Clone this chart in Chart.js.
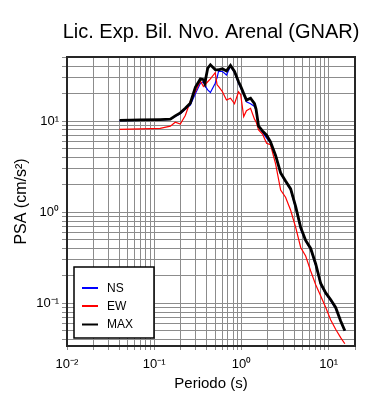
<!DOCTYPE html>
<html>
<head>
<meta charset="utf-8">
<script src="https://cdn.jsdelivr.net/npm/chart.js@4.4.1/dist/chart.umd.min.js"></script>
<style>
  html, body { margin: 0; padding: 0; background: #fff; }
  #wrap { width: 390px; height: 400px; position: relative; }
</style>
</head>
<body>
<div id="wrap"><canvas id="c" width="390" height="400"></canvas></div>
<script>
// ---- data ----
const periods = [0.04, 0.069, 0.117, 0.153, 0.174, 0.199, 0.227, 0.259, 0.296, 0.338, 0.366, 0.38, 0.41, 0.44, 0.50, 0.525, 0.545, 0.605, 0.673, 0.748, 0.832, 0.925, 0.98, 1.06, 1.14, 1.27, 1.41, 1.47, 1.57, 1.74, 1.94, 2.15, 2.46, 2.81, 3.2, 3.66, 4.18, 4.77, 5.44, 6.21, 7.09, 8.09, 9.24, 10.5, 12.0, 13.7, 15.3];
const psaNS  = [10.1, 10.2, 10.3, 10.4, 11.2, 12.0, 13.5, 15.0, 20.0, 26.0, 27.0, 24.5, 22.0, 20.6, 26.0, 30.0, 35.0, 35.0, 32.0, 40.0, 34.0, 26.0, 23.0, 19.5, 16.3, 15.5, 14.5, 13.0, 8.8, 7.5, 6.5, 5.8, 4.1, 2.65, 2.15, 1.75, 1.1, 0.65, 0.48, 0.39, 0.26, 0.16, 0.127, 0.107, 0.088, 0.063, 0.05];
const psaEW  = [8.1, 8.2, 8.3, 8.8, 9.7, 9.3, 11.5, 16.5, 21.0, 27.5, 24.0, 25.0, 27.0, 29.0, 34.0, 25.0, 24.0, 21.0, 17.0, 17.8, 15.5, 21.0, 19.4, 11.2, 13.0, 13.8, 10.5, 9.8, 8.0, 7.2, 5.7, 5.5, 3.4, 1.75, 1.46, 1.05, 0.68, 0.41, 0.33, 0.226, 0.16, 0.12, 0.09, 0.066, 0.052, 0.042, 0.036];
const psaMAX = [10.2, 10.3, 10.4, 10.5, 11.4, 12.3, 13.8, 15.7, 23.5, 29.0, 28.5, 26.0, 38.0, 41.5, 36.6, 36.5, 36.6, 37.5, 35.5, 40.8, 35.0, 27.0, 24.0, 20.0, 17.0, 17.8, 15.5, 13.5, 8.8, 7.8, 7.0, 5.9, 4.2, 2.7, 2.2, 1.8, 1.15, 0.68, 0.49, 0.40, 0.27, 0.165, 0.13, 0.11, 0.09, 0.064, 0.05];

const seriesNames = ['NS', 'EW', 'MAX'];
const xTickValues = [0.01, 0.1, 1, 10];
const xTickLabels = ['10⁻²', '10⁻¹', '10⁰', '10¹'];
const yTickValues = [0.1, 1, 10];
const yTickLabels = ['10⁻¹', '10⁰', '10¹'];

const titleText = 'Lic. Exp. Bil. Nvo. Arenal (GNAR)';
const xTitle = 'Periodo (s)';
const yTitle = 'PSA (cm/s²)';

// ---- helpers ----
function pts(ys) { return periods.map((p, i) => ({ x: p, y: ys[i] })); }
function minorTicks(lo, hi) {
  const out = [];
  for (let e = -3; e <= 3; e++) {
    for (let m = 1; m <= 9; m++) {
      const v = m * Math.pow(10, e);
      if (v >= lo * 0.9999 && v <= hi * 1.0001) out.push({ value: v });
    }
  }
  return out;
}
function labelFor(vals, labs) {
  return function (val) {
    const i = vals.findIndex(t => Math.abs(t - val) / t < 1e-6);
    return i >= 0 ? labs[i] : '';
  };
}

const FONT = "'Liberation Sans', Arial, Helvetica, sans-serif";
Chart.defaults.font.family = FONT;
Chart.defaults.color = '#000';

const GRID = '#8c8c8c';
const X_MIN = 0.01, X_MAX = 20, Y_MIN = 0.034, Y_MAX = 50.5;

const framePlugin = {
  id: 'frameAndLegend',
  afterDraw(chart) {
    const ctx = chart.ctx;
    const a = chart.chartArea;
    ctx.save();
    // title centred over the plot area
    ctx.fillStyle = '#000';
    ctx.font = '20px ' + FONT;
    ctx.textAlign = 'center';
    ctx.textBaseline = 'middle';
    ctx.fillText(titleText, (a.left + a.right) / 2, 32);
    // frame
    ctx.strokeStyle = '#262626';
    ctx.lineWidth = 2;
    ctx.strokeRect(a.left, a.top, a.right - a.left, a.bottom - a.top);
    // legend box
    const bx = 74, by = 267, bw = 80, bh = 71;
    ctx.fillStyle = '#fff';
    ctx.fillRect(bx, by, bw, bh);
    ctx.strokeStyle = '#000';
    ctx.lineWidth = 1.5;
    ctx.strokeRect(bx, by, bw, bh);
    const rows = [288, 306, 324.5];
    chart.data.datasets.forEach((ds, i) => {
      const yy = rows[i];
      ctx.strokeStyle = ds.borderColor;
      ctx.lineWidth = 2;
      ctx.beginPath();
      ctx.moveTo(82, yy);
      ctx.lineTo(98, yy);
      ctx.stroke();
      ctx.fillStyle = '#000';
      ctx.font = '12px ' + FONT;
      ctx.textBaseline = 'middle';
      ctx.textAlign = 'left';
      ctx.fillText(ds.label, 107, yy + 0.5);
    });
    ctx.restore();
  }
};

new Chart(document.getElementById('c'), {
  type: 'line',
  data: {
    datasets: [
      { label: seriesNames[0], data: pts(psaNS), borderColor: '#0000ff', borderWidth: 1.2, order: 2 },
      { label: seriesNames[1], data: pts(psaEW), borderColor: '#ff0000', borderWidth: 1.2, order: 1 },
      { label: seriesNames[2], data: pts(psaMAX), borderColor: '#000000', borderWidth: 2.8, order: 0 }
    ]
  },
  options: {
    responsive: false,
    animation: false,
    devicePixelRatio: 1,
    elements: { point: { radius: 0 }, line: { tension: 0, fill: false } },
    layout: { padding: { left: 0, right: 35, top: 57, bottom: 0 } },
    plugins: {
      legend: { display: false },
      tooltip: { enabled: false },
      title: { display: false }
    },
    scales: {
      x: {
        type: 'logarithmic',
        min: X_MIN, max: X_MAX,
        afterBuildTicks(scale) { scale.ticks = minorTicks(X_MIN, X_MAX); },
        afterFit(scale) { scale.height = 54; },
        grid: { color: GRID, lineWidth: 1, tickLength: 4, drawOnChartArea: true },
        border: { display: false },
        ticks: {
          autoSkip: false, maxRotation: 0, minRotation: 0,
          padding: 7,
          font: { size: 13 },
          color: '#000',
          callback: labelFor(xTickValues, xTickLabels)
        },
        title: { display: true, text: xTitle, font: { size: 15 }, color: '#000', padding: { top: 8, bottom: 7 } }
      },
      y: {
        type: 'logarithmic',
        min: Y_MIN, max: Y_MAX,
        afterBuildTicks(scale) { scale.ticks = minorTicks(Y_MIN, Y_MAX); },
        afterFit(scale) { scale.width = 67; },
        grid: { color: GRID, lineWidth: 1, tickLength: 5 },
        border: { display: false },
        ticks: {
          autoSkip: false,
          padding: 3,
          font: { size: 13 },
          color: '#000',
          callback: labelFor(yTickValues, yTickLabels)
        },
        title: { display: true, text: yTitle, font: { size: 16 }, color: '#000', padding: { top: 12, bottom: 12 } }
      }
    }
  },
  plugins: [framePlugin]
});
</script>
</body>
</html>
